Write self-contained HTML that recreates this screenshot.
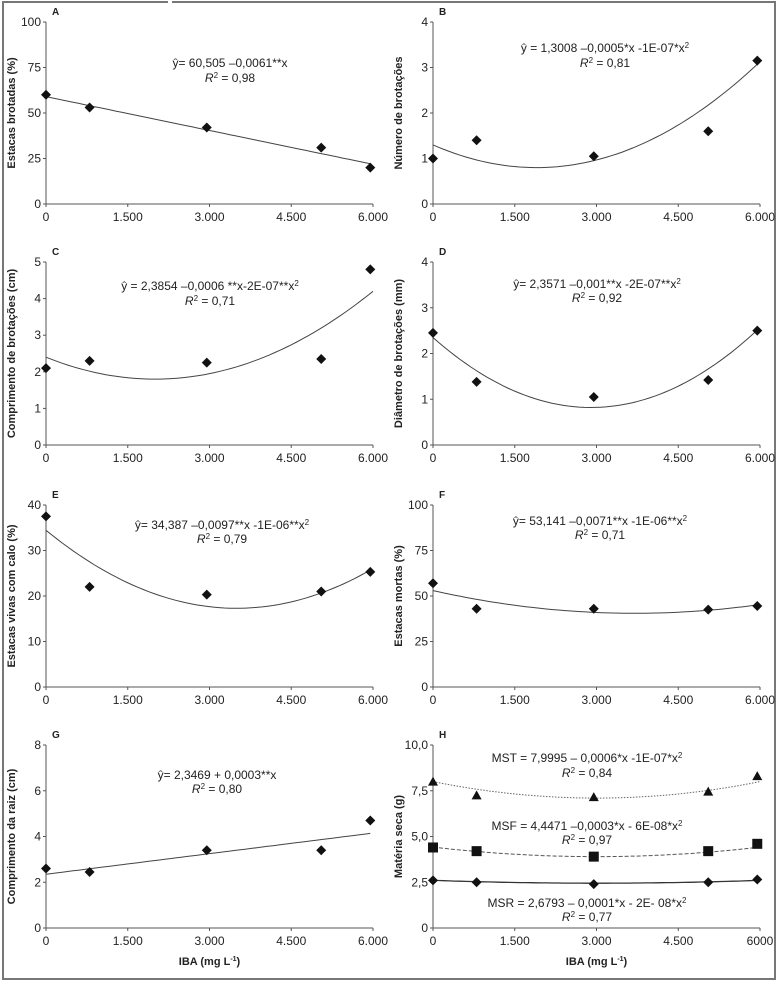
<!DOCTYPE html>
<html><head><meta charset="utf-8">
<style>
html,body{margin:0;padding:0;background:#fff;}
svg{display:block;}
text{font-family:"Liberation Sans Narrow","Liberation Sans",sans-serif;fill:#222;}
</style></head>
<body>
<svg id="fig" width="778" height="984" viewBox="0 0 778 984" xmlns="http://www.w3.org/2000/svg">
<rect x="3" y="2" width="772" height="977" fill="none" stroke="#777" stroke-width="2"/>
<line x1="168" y1="2" x2="172" y2="2" stroke="#fff" stroke-width="3"/>
</svg>
<script>
// shared x data (IBA mg/L)
const doses = [0, 800, 2950, 5050, 5950];
const xTicks = [0, 1500, 3000, 4500, 6000];
const xTickLabels = ["0", "1.500", "3.000", "4.500", "6.000"];
const xTickLabelsH = ["0", "1.500", "3.000", "4.500", "6000"];

// panel observed values
const valsA = [60, 53, 42, 31, 20];
const valsB = [1.0, 1.4, 1.05, 1.6, 3.15];
const valsC = [2.1, 2.3, 2.25, 2.35, 4.8];
const valsD = [2.45, 1.38, 1.05, 1.42, 2.5];
const valsE = [37.5, 22, 20.3, 21, 25.3];
const valsF = [57, 43, 43, 42.5, 44.5];
const valsG = [2.6, 2.45, 3.4, 3.4, 4.7];
const valsMST = [8.0, 7.25, 7.15, 7.45, 8.3];
const valsMSF = [4.4, 4.2, 3.9, 4.2, 4.6];
const valsMSR = [2.6, 2.5, 2.4, 2.5, 2.65];

// fitted lines: y = c0 + c1*x
const fitA = [59, -0.0062];
const fitG = [2.35, 0.0003];
// vertex form [h, k, a] : y = a(x-h)^2 + k
const vtxB = [1900, 0.8, 1.385e-7];
const vtxC = [2000, 1.8, 1.5e-7];
const vtxD = [2900, 0.82, 1.82e-7];
const vtxE = [3500, 17.3, 1.4e-6];
const vtxF = [3700, 40.5, 9.1e-7];
const vtxMST = [3000, 7.1, 1.0e-7];
const vtxMSF = [3000, 3.9, 5.8e-8];
const vtxMSR = [3000, 2.45, 1.7e-8];

const ticksA = [0,25,50,75,100], ticksA_l = ["0","25","50","75","100"];
const ticks4 = [0,1,2,3,4], ticks4_l = ["0","1","2","3","4"];
const ticks5 = [0,1,2,3,4,5], ticks5_l = ["0","1","2","3","4","5"];
const ticksE = [0,10,20,30,40], ticksE_l = ["0","10","20","30","40"];
const ticksG = [0,2,4,6,8], ticksG_l = ["0","2","4","6","8"];
const ticksH = [0,2.5,5,7.5,10], ticksH_l = ["0","2,5","5,0","7,5","10,0"];

const NS = "http://www.w3.org/2000/svg";
const svg = document.getElementById('fig');
function el(tag, attrs, parent){const e=document.createElementNS(NS,tag);for(const k in attrs)e.setAttribute(k,attrs[k]);(parent||svg).appendChild(e);return e;}

function panel(p){
  const g = el('g', {});
  
  
  const xs = v => p.x0 + (v/6000)*(p.x1-p.x0);
  const ys = v => p.y0 - (v/p.ymax)*(p.y0-p.y1);
  el('line',{x1:p.x0,y1:p.y0,x2:p.x0,y2:p.y1,stroke:'#555','stroke-width':1},g);
  el('line',{x1:p.x0,y1:p.y0,x2:p.x1,y2:p.y0,stroke:'#555','stroke-width':1},g);
  p.yt.forEach((t,i)=>{
    el('line',{x1:p.x0-3,y1:ys(t),x2:p.x0,y2:ys(t),stroke:'#555'},g);
    const tx=el('text',{x:p.x0-5,y:ys(t)+4,'text-anchor':'end','font-size':12},g);
    
    
    tx.textContent=p.ytl[i];
  });
  xTicks.forEach((t,i)=>{
    el('line',{x1:xs(t),y1:p.y0,x2:xs(t),y2:p.y0+3,stroke:'#555'},g);
    const tx=el('text',{x:xs(t),y:p.y0+17,'text-anchor':'middle','font-size':12},g);
    
    
    tx.textContent=(p.xtl||xTickLabels)[i];
  });
  const lb=el('text',{x:p.x0+6,y:p.y1-7,'font-size':10,'font-weight':'bold'},g);
  
  
  lb.textContent=p.id;
  const cy=(p.y0+p.y1)/2;
  const yt=el('text',{x:p.tx,y:cy,'text-anchor':'middle','font-size':11,'font-weight':'bold',transform:`rotate(-90 ${p.tx} ${cy})`},g);
  
  
  yt.textContent=p.title;
  if(p.xtitle){
    const xt=el('text',{x:(p.x0+p.x1)/2,y:p.y0+37,'text-anchor':'middle','font-size':11,'font-weight':'bold'},g);
    
    
    xt.innerHTML='IBA (mg L<tspan font-size="7" dy="-4">-1</tspan><tspan dy="4">)</tspan>';
  }
  p.series.forEach(s=>{
    const f = s.vtx ? (x=>s.vtx[2]*(x-s.vtx[0])**2+s.vtx[1]) : (x=>s.lin[0]+s.lin[1]*x);
    let d='';
    for(let i=0;i<=60;i++){const x=i*100*(s.xend||5950)/6000;d+=(i?'L':'M')+xs(x).toFixed(1)+' '+ys(f(x)).toFixed(1);}
    const pa=el('path',{d:d,fill:'none',stroke:s.color||'#444','stroke-width':s.sw||1,'stroke-dasharray':s.dash||'none'},g);
    
    
    s.vals.forEach((v,i)=>{
      const cx=xs(doses[i]), cyv=ys(v);
      let m;
      if(s.marker==='tri') m=el('polygon',{points:`${cx},${cyv-5} ${cx-5},${cyv+4} ${cx+5},${cyv+4}`,fill:'#111'},g);
      else if(s.marker==='sq') m=el('rect',{x:cx-5,y:cyv-5,width:10,height:10,fill:'#111'},g);
      else m=el('polygon',{points:`${cx},${cyv-5} ${cx+5},${cyv} ${cx},${cyv+5} ${cx-5},${cyv}`,fill:'#111'},g);
      
      
    });
  });
  p.eqs.forEach(e=>{
    const t=el('text',{x:e[0],y:e[1],'text-anchor':'middle','font-size':12},g);
    
    
    t.innerHTML=e[2];
  });
}
const R2 = v => `<tspan font-style="italic">R</tspan><tspan font-size="8" dy="-4">2</tspan><tspan dy="4"> = ${v}</tspan>`;
const sq = '<tspan font-size="8" dy="-4">2</tspan>';
const L={x0:46,x1:373,tx:15}, Rt={x0:433,x1:760,tx:402};
panel({...L,id:'A',y0:204,y1:22,ymax:100,yt:ticksA,ytl:ticksA_l,title:'Estacas brotadas (%)',
  series:[{vals:valsA,lin:fitA}],eqs:[[230,67,'ŷ= 60,505 –0,0061**x'],[230,82,R2('0,98')]]});
panel({...Rt,id:'B',y0:204,y1:22,ymax:4,yt:ticks4,ytl:ticks4_l,title:'Número de brotações',
  series:[{vals:valsB,vtx:vtxB}],eqs:[[605,52,'ŷ = 1,3008 –0,0005*x -1E-07*x'+sq],[605,67,R2('0,81')]]});
panel({...L,id:'C',y0:445,y1:262,ymax:5,yt:ticks5,ytl:ticks5_l,title:'Comprimento de brotações (cm)',
  series:[{vals:valsC,vtx:vtxC,xend:6000}],eqs:[[210,290,'ŷ = 2,3854 –0,0006 **x-2E-07**x'+sq],[210,305,R2('0,71')]]});
panel({...Rt,id:'D',y0:445,y1:262,ymax:4,yt:ticks4,ytl:ticks4_l,title:'Diâmetro de brotações (mm)',
  series:[{vals:valsD,vtx:vtxD}],eqs:[[597,288,'ŷ= 2,3571 –0,001**x -2E-07**x'+sq],[597,302,R2('0,92')]]});
panel({...L,id:'E',y0:687,y1:505,ymax:40,yt:ticksE,ytl:ticksE_l,title:'Estacas vivas com calo (%)',
  series:[{vals:valsE,vtx:vtxE}],eqs:[[222,529,'ŷ= 34,387 –0,0097**x -1E-06**x'+sq],[222,543,R2('0,79')]]});
panel({...Rt,id:'F',y0:687,y1:505,ymax:100,yt:ticksA,ytl:ticksA_l,title:'Estacas mortas (%)',
  series:[{vals:valsF,vtx:vtxF,xend:6000}],eqs:[[600,525,'ŷ= 53,141 –0,0071**x -1E-06**x'+sq],[600,539,R2('0,71')]]});
panel({...L,id:'G',y0:928,y1:745,ymax:8,yt:ticksG,ytl:ticksG_l,title:'Comprimento da raiz (cm)',xtitle:true,
  series:[{vals:valsG,lin:fitG}],eqs:[[217,779,'ŷ= 2,3469 + 0,0003**x'],[217,793,R2('0,80')]]});
panel({...Rt,id:'H',y0:928,y1:745,ymax:10,yt:ticksH,ytl:ticksH_l,xtl:xTickLabelsH,title:'Matéria seca (g)',xtitle:true,
  series:[{vals:valsMST,vtx:vtxMST,marker:'tri',dash:'1.5 1.5',color:'#666',xend:6000},
          {vals:valsMSF,vtx:vtxMSF,marker:'sq',dash:'4 2',color:'#555',xend:6000},
          {vals:valsMSR,vtx:vtxMSR,marker:'dia',color:'#333',sw:1.3,xend:6000}],
  eqs:[[587,762,'MST = 7,9995 – 0,0006*x -1E-07*x'+sq],[587,777,R2('0,84')],
       [587,830,'MSF = 4,4471 –0,0003*x - 6E-08*x'+sq],[587,844,R2('0,97')],
       [587,907,'MSR = 2,6793 – 0,0001*x - 2E- 08*x'+sq],[587,921,R2('0,77')]]});
</script>
</body></html>
